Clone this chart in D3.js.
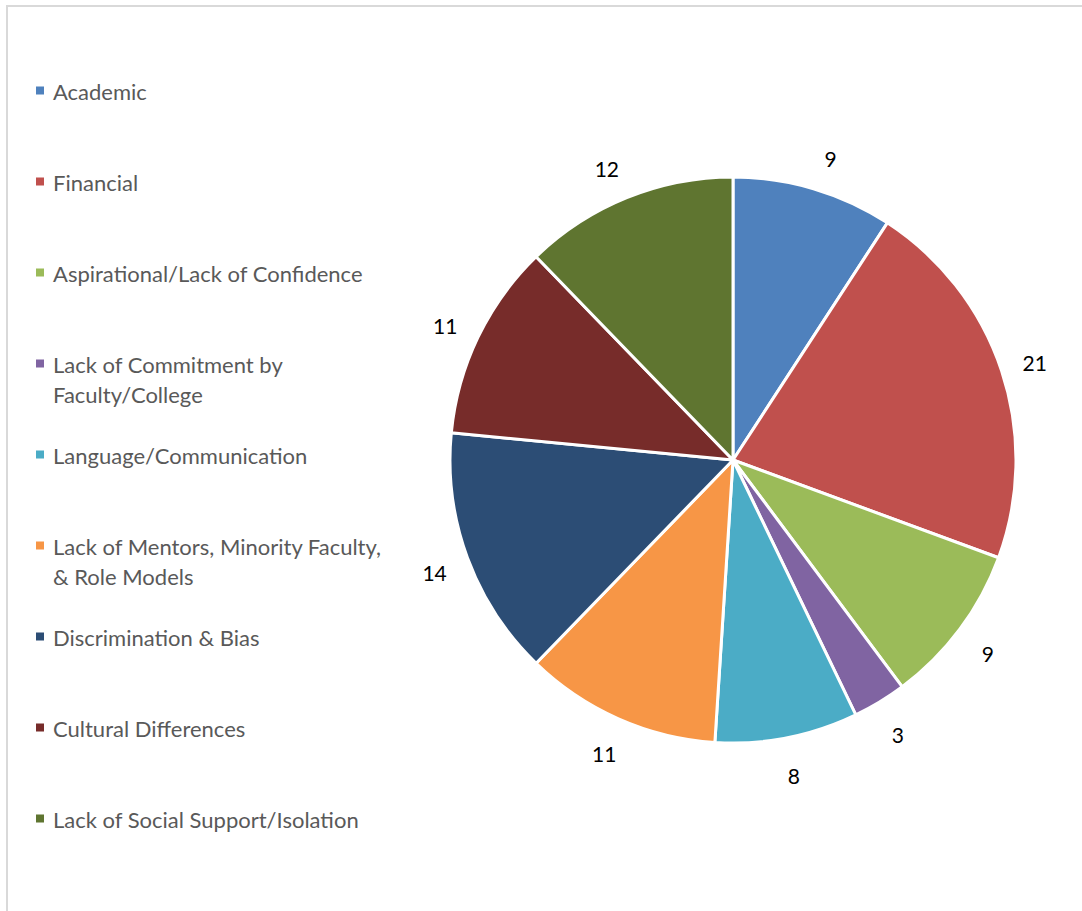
<!DOCTYPE html>
<html>
<head>
<meta charset="utf-8">
<script src="https://cdn.jsdelivr.net/npm/d3@7"></script>
<style>
  body { margin: 0; background: #fff; }
  text { font-family: Lato, "Open Sans", sans-serif; }
</style>
</head>
<body>
<div id="chart"></div>
<script>
// categories and counts
const categories = [
  "Academic",
  "Financial",
  "Aspirational/Lack of Confidence",
  "Lack of Commitment by|Faculty/College",
  "Language/Communication",
  "Lack of Mentors, Minority Faculty,|& Role Models",
  "Discrimination & Bias",
  "Cultural Differences",
  "Lack of Social Support/Isolation"
];
const counts = [9, 21, 9, 3, 8, 11, 14, 11, 12];
const colors = ["#4F81BD", "#C0504D", "#9BBB59", "#8064A2", "#4BACC6",
                "#F79646", "#2C4D75", "#772C2A", "#5F7530"];

const width = 1082;
const height = 911;

const svg = d3.select("#chart")
  .append("svg")
    .attr("width", width)
    .attr("height", height);

// frame
svg.append("rect")
  .attr("x", 7)
  .attr("y", 6)
  .attr("width", width)
  .attr("height", height)
  .attr("fill", "none")
  .attr("stroke", "#d9d9d9")
  .attr("stroke-width", 2);

// pie
const cx = 733, cy = 460, radius = 283;

const data = categories.map((c, i) => ({name: c, value: counts[i], color: colors[i]}));

const pie = d3.pie()
  .value(d => d.value)
  .sort(null);

const arc = d3.arc()
  .innerRadius(0)
  .outerRadius(radius);

const labelArc = d3.arc()
  .innerRadius(318)
  .outerRadius(318);

const g = svg.append("g")
  .attr("transform", `translate(${cx},${cy})`);

const arcs = pie(data);

g.selectAll("path")
  .data(arcs)
  .join("path")
  .attr("d", arc)
  .attr("fill", d => d.data.color)
  .attr("stroke", "#fff")
  .attr("stroke-width", 3)
  .attr("stroke-linejoin", "round");

g.selectAll("text.val")
  .data(arcs)
  .join("text")
  .attr("class", "val")
  .attr("x", d => {
    const c = labelArc.centroid(d);
    // push labels near the top a bit sideways, like the original
    return c[0] + Math.sign(c[0]) * Math.max(0, -c[1] - 100) * 0.035;
  })
  .attr("y", d => labelArc.centroid(d)[1] + 3)
  .attr("text-anchor", "middle")
  .attr("dominant-baseline", "central")
  .style("font-size", "21px")
  .attr("fill", "#000")
  .text(d => d.data.value);

// legend
const legendY = d3.scaleBand()
  .domain(categories)
  .range([45, 45 + 91 * categories.length]);

const legend = svg.append("g");

const item = legend.selectAll("g")
  .data(data)
  .join("g")
  .attr("transform", d => `translate(36,${legendY(d.name) + legendY.bandwidth() / 2})`);

item.append("rect")
  .attr("x", 0)
  .attr("y", -4)
  .attr("width", 8)
  .attr("height", 8)
  .attr("fill", d => d.color);

item.append("text")
  .attr("x", 17)
  .attr("y", 0)
  .attr("dominant-baseline", "central")
  .style("font-size", "22px")
  .attr("fill", "#595959")
  .selectAll("tspan")
  .data(d => d.name.split("|"))
  .join("tspan")
  .attr("x", 17)
  .attr("dy", (d, i) => i === 0 ? 0 : 30)
  .text(d => d);
</script>
</body>
</html>
